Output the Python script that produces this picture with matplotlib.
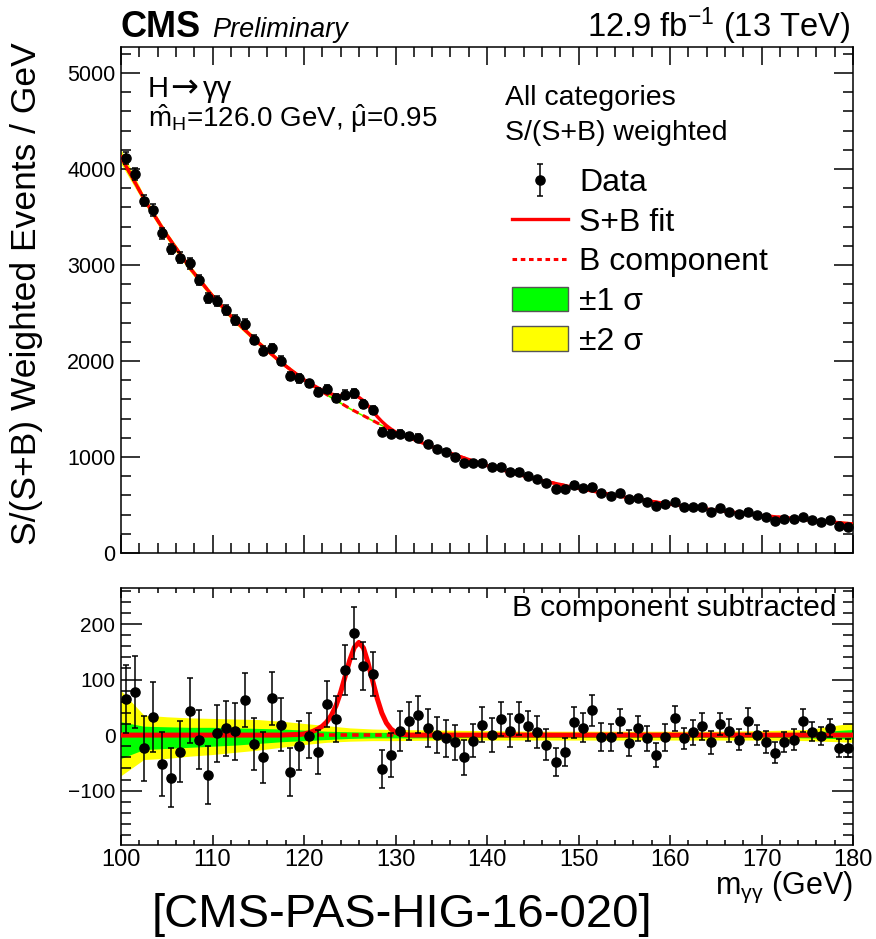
import numpy as np
import matplotlib
matplotlib.use('Agg')
import matplotlib.pyplot as plt
from matplotlib.lines import Line2D
from matplotlib.patches import Patch
from matplotlib.ticker import MultipleLocator

plt.rcParams['font.family'] = ['Liberation Sans', 'DejaVu Sans']
plt.rcParams['mathtext.fontset'] = 'custom'
plt.rcParams['mathtext.rm'] = 'Liberation Sans'
plt.rcParams['mathtext.it'] = 'Liberation Sans:italic'
plt.rcParams['mathtext.bf'] = 'Liberation Sans:bold'

# 1 GeV bins, 100-180 GeV
mgg = np.arange(100.5, 180.0, 1.0)

# S/(S+B) weighted events per bin
events = [4111, 3945, 3667, 3570, 3330, 3167, 3076, 3017, 2840, 2660,
          2625, 2531, 2424, 2385, 2219, 2107, 2132, 2003, 1844, 1819,
          1767, 1677, 1705, 1618, 1649, 1663, 1552, 1490, 1264, 1243,
          1240, 1219, 1201, 1135, 1083, 1049, 1003, 941, 941, 941,
          899, 895, 847, 847, 806, 767, 726, 667, 663, 708,
          674, 691, 622, 597, 622, 559, 569, 535, 490, 507,
          535, 476, 476, 476, 431, 465, 431, 403, 431, 396,
          372, 337, 351, 351, 378, 344, 326, 344, 285, 274]

# data minus B component
resid = [65, 77, -24, 32, -52, -77, -30, 44, -8, -72,
         3, 12, 7, 63, -16, -40, 66, 19, -66, -19,
         -1, -30, 56, 29, 118, 184, 124, 110, -61, -36,
         7, 25, 37, 13, 0, -6, -13, -40, -10, 19,
         0, 29, 8, 30, 16, 5, -17, -48, -31, 23,
         13, 45, -4, -4, 25, -14, 12, -6, -36, -4,
         30, -6, 5, 16, -13, 20, 8, -8, 25, 0,
         -12, -32, -12, -8, 26, 6, -1, 13, -23, -23]

err = [62, 65, 58, 63, 57, 53, 55, 58, 53, 52,
       51, 49, 51, 48, 47, 46, 47, 47, 43, 44,
       40, 40, 42, 42, 45, 47, 43, 40, 34, 40,
       36, 34, 34, 34, 32, 33, 32, 32, 30, 32,
       30, 30, 30, 30, 27, 29, 28, 25, 25, 28,
       26, 28, 25, 24, 22, 23, 23, 23, 22, 24,
       23, 19, 22, 24, 21, 19, 21, 19, 23, 18,
       20, 19, 18, 19, 21, 17, 16, 16, 16, 16]

# background fit and its uncertainty bands
bkg_mass = [100, 102.5, 105, 107.5, 110, 112.5, 115, 117.5, 120, 122.5, 125, 127.5,
            130, 135, 140, 145, 150, 155, 160, 165, 170, 175, 180]
bkg = [4125, 3691, 3313, 2973, 2677, 2417, 2191, 1984, 1803, 1649, 1505, 1380,
       1256, 1070, 910, 776, 672, 583, 508, 445, 391, 345, 303]
band2_hi = [80, 36, 33, 31, 30, 29, 28, 25, 21, 17, 13, 11,
            10, 9, 8, 7, 7, 7, 7, 7, 8, 10, 22]
band2_lo = [-73, -44, -42, -38, -35, -31, -27, -22, -17, -13, -11, -10,
            -10, -9, -9, -9, -9, -9, -9, -9, -9, -10, -13]
band1_hi = [24, 16, 15, 14, 14, 13, 12, 11, 9, 7, 6, 5,
            5, 4, 4, 3, 3, 3, 3, 3, 4, 5, 10]
band1_lo = [-42, -26, -24, -22, -20, -18, -15, -12, -10, -8, -6, -5,
            -5, -5, -4, -4, -4, -4, -4, -4, -4, -5, -7]

# signal component of the fit
sig_mass = [119.0, 119.5, 120.0, 120.5, 121.0, 121.5, 122.0, 122.5, 123.0, 123.5,
            124.0, 124.5, 125.0, 125.5, 126.0, 126.5, 127.0, 127.5, 128.0, 128.5,
            129.0, 129.5, 130.0, 130.5, 131.0, 131.5, 132.0]
sig = [1, 1, 2, 4, 7, 11, 16, 24, 36, 53,
       77, 106, 135, 158, 167, 157, 130, 98, 66, 40,
       22, 11, 5, 2, 1, 0, 0]

mh_hat = 126.0
mu_hat = 0.95

bkg_mass = np.array(bkg_mass)
bkg = np.array(bkg)
x_fit = np.union1d(bkg_mass, sig_mass)
b_fit = np.interp(x_fit, bkg_mass, bkg)
s_fit = np.interp(x_fit, sig_mass, sig, left=0, right=0)

W, H = 876, 939
fig = plt.figure(figsize=(W / 100, H / 100), dpi=100)

def fx(px):
    return px / W

def fy(py):
    return 1 - py / H

ax1 = fig.add_axes([fx(121), fy(553), fx(853) - fx(121), fy(47) - fy(553)])
ax2 = fig.add_axes([fx(121), fy(845), fx(853) - fx(121), fy(588) - fy(845)])

GREEN = '#00ff00'
YELLOW = '#ffff00'
RED = '#ff0000'

# upper panel
ax1.fill_between(bkg_mass, bkg + np.array(band2_lo), bkg + np.array(band2_hi),
                 color=YELLOW, lw=0, zorder=1)
ax1.fill_between(bkg_mass, bkg + np.array(band1_lo), bkg + np.array(band1_hi),
                 color=GREEN, lw=0, zorder=1)
ax1.plot(bkg_mass, bkg, color=RED, lw=2.2, ls=(0, (2.2, 1.6)), zorder=2)
ax1.plot(x_fit, b_fit + s_fit, color=RED, lw=2.4, zorder=3)
data = ax1.errorbar(mgg, events, yerr=err, fmt='o', color='black', ms=6.6,
                    elinewidth=1.1, capsize=2.2, capthick=1.1, zorder=4)

# lower panel
ax2.fill_between(bkg_mass, band2_lo, band2_hi, color=YELLOW, lw=0, zorder=1)
ax2.fill_between(bkg_mass, band1_lo, band1_hi, color=GREEN, lw=0, zorder=1)
ax2.plot(bkg_mass, np.zeros(len(bkg_mass)), color=RED, lw=2.6, ls=(0, (1.8, 1.4)), zorder=2)
ax2.plot(x_fit, s_fit, color=RED, lw=3.6, zorder=3)
ax2.errorbar(mgg, resid, yerr=err, fmt='o', color='black', ms=6.6,
             elinewidth=1.1, capsize=2.2, capthick=1.1, zorder=4)

ax1.set_xlim(100, 180)
ax1.set_ylim(0, 5270)
ax2.set_xlim(100, 180)
ax2.set_ylim(-198, 265)

for ax in (ax1, ax2):
    for s in ax.spines.values():
        s.set_linewidth(1.1)
    ax.xaxis.set_major_locator(MultipleLocator(10))
    ax.xaxis.set_minor_locator(MultipleLocator(2))
    ax.tick_params(which='both', direction='in', top=True, right=True, width=1.1)

ax1.yaxis.set_major_locator(MultipleLocator(1000))
ax1.yaxis.set_minor_locator(MultipleLocator(200))
ax1.tick_params(axis='x', which='major', length=13)
ax1.tick_params(axis='x', which='minor', length=7)
ax1.tick_params(axis='y', which='major', length=14)
ax1.tick_params(axis='y', which='minor', length=7)
ax1.tick_params(axis='x', labelbottom=False)
ax1.tick_params(axis='y', labelsize=15.5, pad=4)

ax2.yaxis.set_major_locator(MultipleLocator(100))
ax2.yaxis.set_minor_locator(MultipleLocator(20))
ax2.tick_params(axis='x', which='major', length=7, labelsize=17, pad=3)
ax2.tick_params(axis='x', which='minor', length=3.5)
ax2.tick_params(axis='y', which='major', length=15, labelsize=15, pad=4)
ax2.tick_params(axis='y', which='minor', length=7.5)

# titles and labels
fig.text(fx(121), fy(37), 'CMS', fontsize=26, fontweight='bold', ha='left', va='baseline')
fig.text(fx(212), fy(37), 'Preliminary', fontsize=19.5, style='italic', ha='left', va='baseline')
fig.text(fx(850), fy(37), '12.9 fb$^{\\mathrm{-1}}$ (13 TeV)', fontsize=23.5, ha='right', va='baseline')

fig.text(fx(27), fy(294), 'S/(S+B) Weighted Events / GeV', fontsize=25.5,
         rotation=90, ha='center', va='center')
fig.text(fx(853), fy(894), r'm$_{\mathrm{\gamma\gamma}}$ (GeV)', fontsize=22, ha='right', va='baseline')
fig.text(fx(402), fy(927), '[CMS-PAS-HIG-16-020]', fontsize=34, ha='center', va='baseline')

fig.text(fx(148), fy(97), 'H', fontsize=21, ha='left', va='baseline')
fig.text(fx(170), fy(97), '→', fontsize=24, family='DejaVu Sans', ha='left', va='baseline')
fig.text(fx(203), fy(97), 'γγ', fontsize=21, ha='left', va='baseline')
fig.text(fx(148), fy(127), r'$\hat{\mathrm{m}}_{\mathrm{H}}$=%.1f GeV, $\hat{\mathrm{\mu}}$=%.2f' % (mh_hat, mu_hat),
         fontsize=20, ha='left', va='baseline')

fig.text(fx(505), fy(105), 'All categories', fontsize=20.5, ha='left', va='baseline')
fig.text(fx(505), fy(140), 'S/(S+B) weighted', fontsize=20.5, ha='left', va='baseline')
fig.text(fx(836), fy(616), 'B component subtracted', fontsize=21.5, ha='right', va='baseline')

handles = [data,
           Line2D([], [], color=RED, lw=2.4),
           Line2D([], [], color=RED, lw=2.2, ls=(0, (1.5, 1.2))),
           Patch(facecolor=GREEN, edgecolor='#555555', lw=1),
           Patch(facecolor=YELLOW, edgecolor='#555555', lw=1)]
labels = ['Data', 'S+B fit', 'B component', '±1 σ', '±2 σ']
ax1.legend(handles, labels, loc='upper left', bbox_to_anchor=(fx(512), fy(168)),
           bbox_transform=fig.transFigure, frameon=False, fontsize=23,
           borderpad=0, borderaxespad=0, handlelength=1.75, handleheight=0.8,
           handletextpad=0.35, labelspacing=0.29)

fig.savefig('out.png', dpi=100)
